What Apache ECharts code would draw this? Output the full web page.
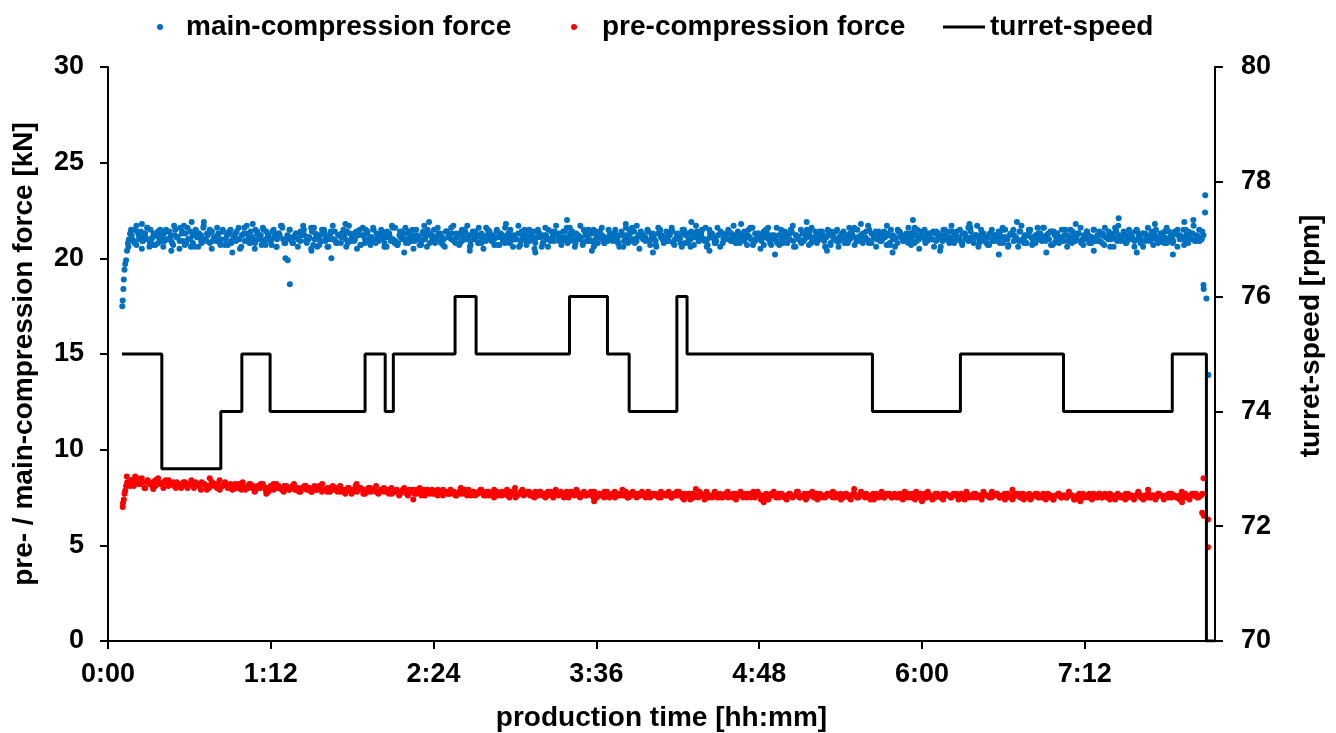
<!DOCTYPE html>
<html>
<head>
<meta charset="utf-8">
<script src="https://cdn.jsdelivr.net/npm/echarts@6/dist/echarts.min.js"></script>
<style>html,body{margin:0;padding:0;background:#fff}#c{width:1336px;height:733px}</style>
</head>
<body>
<div id="c"></div>
<script>
// ---- data (time in minutes of production) ----
const xTickLabels = ['0:00','1:12','2:24','3:36','4:48','6:00','7:12'];
const xTickStep = 72;          // minutes between x ticks
const xMax = 489.6;            // axis end (0.34 day)

// main-compression force [kN], three regularly sampled read-outs
const mainRange1 = [8.8, 484.5];
const mainForce = [
20.8,21.3,21.0,21.5,20.7,21.2,21.4,20.9,21.1,21.6,20.6,21.0,21.3,21.2,20.8,21.5,21.1,20.9,21.4,21.0,
21.2,20.7,21.5,21.1,20.9,21.3,21.7,20.8,21.0,21.4,21.2,20.6,21.1,21.3,20.9,21.6,21.0,21.2,20.8,21.4,
21.1,20.9,21.3,21.0,21.5,20.7,21.2,21.4,20.8,21.1,21.3,21.0,20.5,21.2,21.6,20.9,21.1,21.4,21.0,20.8,
21.3,21.1,20.7,21.5,21.0,21.2,20.9,21.4,21.1,20.6,21.3,21.7,21.0,20.8,21.2,21.5,20.9,21.1,21.3,21.0,
20.9,21.4,21.2,20.8,21.1,21.6,20.7,21.3,21.0,21.2,20.9,21.5,21.1,20.6,21.3,21.0,21.4,20.8,21.2,21.1,
21.5,21.0,20.8,21.3,21.1,20.9,21.4,21.2,20.7,21.6,21.0,21.3,20.9,21.1,21.5,20.8,21.2,21.0,21.4,20.6,
21.1,21.3,20.9,21.0,21.6,20.7,21.2,21.4,21.0,20.8,21.3,21.1,21.5,20.9,21.2,21.0,20.7,21.4,21.1,21.3,
20.8,21.2,21.5,21.0,20.9,21.3,21.1,20.6,21.4,21.2,21.0,21.7,20.8,21.1,21.3,20.9,21.5,21.0,21.2,20.7,
21.4,21.0,21.2,20.8,21.3,21.1,20.9,21.5,21.0,21.2,20.7,21.4,21.1,21.3,20.9,21.6,21.0,20.8,21.2,21.1,
21.0,21.3,20.7,21.1,21.5,20.9,21.2,21.0,21.4,20.8,21.1,21.3,20.6,21.2,21.0,21.5,20.9,21.1,21.4,21.2,
20.9,21.1,21.4,21.0,20.8,21.6,21.2,20.9,21.3,21.1,21.0,20.7,21.4,21.2,20.9,21.3,21.5,21.0,20.8,21.1,
21.2,20.8,21.0,21.5,21.1,20.9,21.3,21.0,20.6,21.4,21.2,21.1,20.8,21.3,21.6,21.0,20.9,21.2,21.4,21.0,
21.1,21.4,20.9,21.2,21.0,20.7,21.3,21.5,21.0,21.1,20.9,21.2,21.4,20.8,21.0,21.3,21.1,20.6,21.5,21.2,
20.8,21.0,21.3,21.1,21.4,20.9,21.2,21.0,21.6,20.7,21.1,21.3,21.0,20.9,21.2,21.4,20.8,21.1,21.3,21.0,
21.3,21.1,20.8,21.4,21.0,21.2,20.9,21.1,21.5,21.0,20.7,21.3,21.2,21.0,20.9,21.4,21.1,21.6,20.8,21.2,
21.0,20.9,21.2,21.5,20.8,21.1,21.3,21.0,21.4,20.6,21.2,21.1,20.9,21.3,21.0,21.5,21.2,20.8,21.1,21.4,
21.2,21.0,21.4,20.9,21.1,21.3,20.7,21.2,21.0,21.5,20.9,21.1,21.4,21.0,20.8,21.3,21.2,21.6,20.9,21.1,
20.9,21.3,21.1,21.0,21.5,20.8,21.2,21.4,21.0,20.9,21.3,21.1,20.7,21.2,21.5,21.0,21.1,20.8,21.4,21.2,
21.1,21.0,20.8,21.3,21.2,21.6,20.9,21.0,21.4,21.1,20.8,21.2,21.3,21.0,20.6,21.4,21.1,21.2,20.9,21.5,
21.0,21.4,21.1,20.9,21.2,21.0,21.5,20.8,21.3,21.1,20.9,21.4,21.0,21.2,21.7,20.8,21.1,21.3,21.0,20.7,
21.3,20.9,21.2,21.0,21.4,21.1,20.8,21.5,21.0,21.2,21.3,20.9,21.1,20.6,21.4,21.0,21.2,20.8,21.5,21.1,
20.8,21.2,21.0,21.3,20.9,21.6,21.1,21.0,21.4,20.7,21.2,21.3,21.0,21.1,20.9,21.5,21.2,21.0,20.8,21.3,
21.1,21.3,20.9,21.0,21.2,21.4,20.8,21.1,21.5,21.0,20.9,21.3,21.2,20.7,21.1,21.4,21.0,21.2,21.6,20.9,
21.2,21.0,21.4,20.8,21.1,21.3,21.0,20.9,21.5,21.2,21.0,20.6,21.3,21.1,20.9,21.4,21.2,21.0,20.8,21.3,
21.0,21.1,20.8,21.4,21.2,20.9,21.3,21.5,21.0,21.1,20.7,21.2,21.4,21.0,21.3,20.9,21.1,21.5,21.0,21.2
];
const mainRange2 = [9.3, 484.0];
const mainForce2 = [
21.0,21.2,20.8,21.4,21.1,20.9,21.3,21.0,21.5,20.7,21.2,21.1,20.9,21.3,21.0,21.4,20.8,21.2,21.1,21.6,
20.9,21.3,21.0,20.6,21.2,21.4,21.1,20.8,21.0,21.3,21.5,20.9,21.1,21.2,20.7,21.4,21.0,21.3,20.9,21.1,
21.4,21.0,21.2,20.9,21.3,20.8,21.1,21.5,21.0,21.2,20.9,21.4,21.1,20.7,21.3,21.0,21.2,21.6,20.8,21.1,
21.1,20.8,21.3,21.0,21.2,21.5,20.9,21.1,21.4,21.0,20.6,21.2,21.3,20.9,21.1,21.4,21.0,20.8,21.2,21.3,
21.2,21.4,20.9,21.1,21.0,21.3,20.7,21.2,21.5,21.0,21.1,20.9,21.3,21.2,21.0,20.8,21.4,21.1,21.6,20.9,
20.8,21.1,21.3,21.0,21.4,20.9,21.2,21.1,20.7,21.3,21.0,21.5,21.2,20.9,21.1,21.3,20.8,21.0,21.4,21.2,
21.3,21.0,21.1,20.8,21.2,21.4,21.0,20.9,21.3,21.1,21.6,20.8,21.0,21.2,21.4,20.9,21.1,20.7,21.3,21.0,
21.1,21.3,20.9,21.2,21.0,20.6,21.4,21.1,21.2,20.9,21.3,21.0,21.5,21.1,20.8,21.2,21.0,21.4,20.9,21.2,
21.0,20.9,21.4,21.1,21.3,21.0,20.8,21.2,21.1,21.5,20.9,21.0,21.3,20.7,21.2,21.4,21.0,21.1,20.9,21.3,
21.2,21.1,20.8,21.3,20.9,21.2,21.5,21.0,20.8,21.1,21.3,21.2,20.9,21.4,21.0,21.1,20.6,21.3,21.2,21.0,
20.9,21.2,21.4,21.0,21.1,20.8,21.3,21.2,21.0,21.4,20.7,21.1,21.2,21.5,20.9,21.0,21.3,21.1,20.8,21.2,
21.3,21.0,21.1,21.4,20.9,21.2,21.0,20.8,21.3,21.1,21.2,21.6,20.9,21.0,21.3,21.1,20.7,21.4,21.2,21.0,
21.1,20.8,21.2,21.0,21.3,21.1,21.5,20.9,21.2,21.0,20.8,21.3,21.1,21.4,21.0,20.9,21.2,21.3,21.1,20.6,
21.2,21.4,21.0,20.9,21.1,21.3,20.8,21.2,21.0,21.5,21.1,20.9,21.2,21.0,21.4,20.8,21.3,21.1,21.0,21.2,
21.0,21.1,21.3,20.7,21.2,21.0,21.4,21.1,20.9,21.3,21.2,21.0,20.8,21.5,21.1,21.2,20.9,21.3,21.0,21.4,
20.9,21.3,21.1,21.2,21.0,20.8,21.4,21.2,21.1,20.9,21.3,21.0,21.6,21.1,20.8,21.2,21.0,21.3,20.9,21.1,
21.3,21.0,20.9,21.2,21.4,21.1,21.0,20.7,21.3,21.2,21.0,21.4,20.9,21.1,21.2,21.5,21.0,20.8,21.3,21.1,
21.1,21.2,21.0,21.4,20.8,21.3,21.1,21.0,21.2,20.9,21.5,21.1,21.0,21.3,20.8,21.2,21.4,21.0,21.1,20.9,
21.2,20.9,21.3,21.1,21.0,21.2,20.6,21.4,21.1,21.0,21.3,20.9,21.2,21.1,21.4,21.0,20.8,21.3,21.2,21.0,
21.0,21.3,21.1,20.9,21.2,21.4,21.0,21.1,20.8,21.3,21.2,21.0,21.5,20.9,21.1,21.3,21.0,21.2,20.9,21.4
];
const mainRange3 = [9.0, 483.7];
const mainForce3 = [
20.6,21.5,20.9,21.7,21.0,20.5,21.3,21.6,20.8,21.1,20.7,21.4,21.2,20.6,21.5,21.0,20.9,21.7,21.1,20.5,
21.4,20.7,21.6,21.0,20.8,21.5,20.6,21.2,21.7,20.9,21.3,20.5,21.1,21.6,20.8,21.4,21.0,20.7,21.5,21.2,
20.9,21.6,20.6,21.3,21.7,20.8,21.1,20.5,21.4,21.0,21.6,20.7,21.2,20.9,21.5,20.6,21.3,21.7,20.8,21.0,
21.5,20.8,21.2,20.6,21.4,21.7,20.9,21.0,20.5,21.6,21.1,20.7,21.5,21.3,20.6,21.0,21.7,20.9,21.2,20.8,
21.1,20.6,21.7,20.9,21.3,20.5,21.5,21.2,20.8,21.4,20.7,21.6,21.0,20.9,21.5,21.2,20.6,21.3,21.7,20.8,
20.7,21.4,21.0,21.6,20.8,21.2,20.5,21.5,21.1,20.9,21.7,20.6,21.3,21.0,20.8,21.6,21.2,20.7,21.4,21.1,
21.6,20.9,21.3,20.7,21.5,21.0,21.7,20.6,21.2,21.4,20.8,21.1,20.5,21.6,21.3,20.9,21.0,21.5,20.7,21.2,
20.8,21.2,21.5,20.6,21.0,21.7,20.9,21.3,20.7,21.5,21.1,20.5,21.4,21.2,20.8,21.6,20.6,21.0,21.3,21.7,
21.3,20.7,21.1,21.6,20.9,21.4,20.6,21.0,21.7,20.8,21.2,21.5,20.9,20.6,21.4,21.1,21.6,20.8,21.0,21.3,
21.0,21.5,20.8,21.2,20.6,21.6,21.1,20.9,21.4,21.7,20.5,21.2,21.0,21.5,20.7,21.3,20.9,21.6,21.1,20.8,
21.4,20.9,21.6,20.7,21.2,21.0,21.5,20.8,21.3,20.6,21.1,21.7,20.9,21.4,21.0,20.6,21.5,21.2,20.8,21.6,
20.6,21.3,21.0,21.5,20.9,21.7,20.8,21.2,21.0,21.4,20.7,21.1,21.6,20.9,21.3,20.5,21.2,21.5,21.0,20.7,
21.2,21.6,20.7,21.0,21.4,20.8,21.3,21.7,20.6,21.1,21.5,20.9,21.2,20.7,21.6,21.0,20.8,21.4,21.3,20.6,
21.5,20.8,21.1,21.4,20.6,21.2,21.0,20.9,21.6,21.3,20.7,21.5,21.1,20.8,21.0,21.7,20.9,21.2,20.6,21.4,
20.9,21.4,21.7,20.8,21.1,20.6,21.5,21.3,20.9,21.0,21.6,20.7,21.4,21.2,20.5,21.1,21.5,20.9,21.3,21.0,
21.3,21.0,20.6,21.5,21.2,20.9,21.7,20.8,21.4,21.1,20.7,21.3,21.0,21.6,20.9,21.2,20.6,21.5,21.1,20.8,
20.7,21.5,21.2,21.0,20.8,21.6,21.1,20.6,21.3,21.5,21.0,20.9,21.7,20.8,21.2,21.4,20.7,21.0,21.6,21.3,
21.6,20.9,21.3,20.7,21.4,21.0,20.8,21.5,21.2,20.6,21.1,21.4,20.9,21.3,21.6,20.7,21.0,21.2,20.8,21.5,
21.0,21.4,20.8,21.6,21.1,20.6,21.3,21.0,21.7,20.9,21.2,20.8,21.5,21.1,20.6,21.4,21.0,21.3,20.9,21.6,
21.2,20.7,21.5,21.0,21.3,20.8,21.6,20.9,21.1,21.4,20.6,21.2,21.0,21.5,20.8,21.3,21.7,20.9,21.1,21.0
];
// individual main-force readings [min, kN]: start-up, edge scatter, outliers, end
const mainExtra = [
[6.3,17.5],[6.5,17.8],[6.8,18.4],[7.0,18.9],[7.3,19.4],[7.6,19.7],[8.0,19.9],[8.4,20.4],
[15,21.8],[28,20.4],[37,21.9],[42.4,21.9],[55,20.3],[64,21.8],[78.5,20.0],[79.5,19.9],[80.4,18.65],[90,20.4],[98.8,20.0],
[105,21.8],[131,20.3],[142,21.9],[160,20.4],[176,21.8],[189,20.3],[203,22.0],[214,20.4],[229,21.8],[241,20.3],
[258,21.9],[266,20.4],[280,21.8],[295,20.2],[309,21.9],[318,20.4],[333,21.8],[347,20.3],[356,22.0],[368,20.4],
[381,21.8],[394,20.2],[402,21.9],[415,20.3],[428,21.8],[436,20.4],[447,22.1],[455,20.3],[463,21.8],[471,20.2],[476,21.9],
[480,22.0],[485.3,23.3],[485.2,22.4],[484.5,18.6],[484.6,18.4],[485.8,17.9],[486.7,13.9]
];

// pre-compression force [kN], two regularly sampled read-outs
const preRange1 = [8.5, 484.0];
const preForce = [
8.3,8.1,8.4,8.2,8.5,8.2,8.3,8.0,8.4,8.2,8.3,8.1,8.5,8.2,8.3,8.4,8.1,8.2,8.3,8.0,
8.2,8.0,8.3,8.1,8.2,8.4,8.0,8.2,8.1,8.3,8.2,7.9,8.1,8.3,8.2,8.0,8.4,8.1,8.2,8.1,
8.1,7.9,8.2,8.0,8.1,8.3,7.9,8.0,8.2,8.1,7.9,8.0,8.2,8.1,8.0,7.8,8.1,8.2,8.0,8.1,
8.0,7.8,8.1,7.9,8.0,8.2,7.9,7.8,8.0,8.1,7.9,8.0,7.8,8.1,7.9,8.0,8.2,7.9,7.8,8.0,
7.9,8.0,7.8,8.1,7.9,7.7,8.0,7.9,7.8,8.1,7.9,8.0,7.7,7.9,8.0,7.8,7.9,8.1,7.8,7.9,
7.8,7.9,7.7,8.0,7.8,7.9,7.6,7.8,8.0,7.7,7.9,7.8,7.7,7.9,8.0,7.8,7.6,7.9,7.8,7.7,
7.7,7.9,7.8,7.6,7.8,7.7,7.9,7.8,7.6,7.7,8.0,7.8,7.7,7.9,7.6,7.8,7.7,7.8,7.9,7.6,
7.8,7.6,7.7,7.9,7.7,7.6,7.8,7.7,7.9,7.5,7.7,7.8,7.6,7.7,7.9,7.7,7.8,7.6,7.7,7.8,
7.6,7.8,7.7,7.5,7.8,7.7,7.6,7.9,7.7,7.8,7.6,7.7,7.5,7.8,7.7,7.9,7.6,7.7,7.8,7.6,
7.7,7.6,7.8,7.5,7.7,7.6,7.8,7.7,7.5,7.6,7.8,7.7,7.6,7.9,7.6,7.5,7.7,7.8,7.6,7.7,
7.6,7.7,7.5,7.8,7.6,7.7,7.6,7.5,7.8,7.7,7.6,7.8,7.5,7.7,7.6,7.8,7.7,7.4,7.6,7.7,
7.7,7.5,7.6,7.8,7.6,7.4,7.7,7.6,7.5,7.8,7.6,7.7,7.5,7.6,7.8,7.6,7.5,7.7,7.6,7.8,
7.5,7.7,7.6,7.5,7.8,7.6,7.7,7.4,7.6,7.7,7.5,7.6,7.8,7.6,7.5,7.7,7.6,7.4,7.7,7.6,
7.6,7.8,7.5,7.6,7.7,7.5,7.6,7.8,7.6,7.4,7.7,7.6,7.5,7.7,7.6,7.8,7.5,7.6,7.7,7.5,
7.7,7.6,7.4,7.7,7.6,7.5,7.8,7.6,7.7,7.5,7.6,7.4,7.7,7.6,7.8,7.5,7.6,7.7,7.5,7.6,
7.5,7.7,7.6,7.8,7.5,7.6,7.7,7.4,7.6,7.7,7.6,7.5,7.8,7.6,7.5,7.7,7.6,7.5,7.7,7.6,
7.6,7.5,7.7,7.6,7.4,7.7,7.6,7.8,7.5,7.6,7.7,7.5,7.6,7.4,7.7,7.6,7.5,7.8,7.6,7.7,
7.5,7.6,7.7,7.5,7.6,7.4,7.7,7.6,7.5,7.7,7.6,7.5,7.4,7.6,7.7,7.5,7.6,7.7,7.4,7.6,
7.6,7.4,7.6,7.7,7.5,7.6,7.5,7.8,7.6,7.4,7.5,7.7,7.6,7.5,7.6,7.7,7.4,7.6,7.5,7.7,
7.5,7.7,7.6,7.4,7.6,7.5,7.7,7.6,7.5,7.4,7.7,7.6,7.5,7.6,7.8,7.5,7.4,7.6,7.7,7.5,
7.6,7.5,7.7,7.6,7.4,7.6,7.5,7.7,7.6,7.5,7.6,7.8,7.5,7.6,7.4,7.7,7.6,7.5,7.6,7.7
];
const preRange2 = [9.0, 483.5];
const preForce2 = [
8.2,8.4,8.1,8.3,8.2,8.5,8.0,8.3,8.2,8.1,8.4,8.3,8.2,8.0,8.3,8.4,8.2,8.1,8.3,8.2,
8.1,8.3,8.0,8.2,8.1,8.3,8.2,7.9,8.2,8.1,8.0,8.3,8.1,8.2,7.9,8.1,8.3,8.0,8.2,8.1,
8.0,8.2,7.9,8.1,8.0,8.2,8.0,7.8,8.1,8.0,8.2,7.9,8.0,8.1,7.9,8.2,8.0,7.9,8.1,8.0,
7.9,8.1,7.9,8.0,7.8,8.0,8.1,7.9,7.8,8.0,7.9,8.1,7.8,7.9,8.0,7.8,8.1,7.9,8.0,7.8,
7.9,7.8,8.0,7.7,7.9,7.8,8.0,7.9,7.7,7.8,8.0,7.9,7.8,7.7,7.9,8.0,7.8,7.9,7.7,7.8,
7.8,7.7,7.9,7.8,7.6,7.8,7.9,7.7,7.8,7.6,7.9,7.8,7.7,7.9,7.8,7.6,7.7,7.9,7.8,7.7,
7.7,7.8,7.6,7.8,7.7,7.9,7.6,7.7,7.8,7.6,7.7,7.9,7.7,7.6,7.8,7.7,7.5,7.8,7.7,7.6,
7.7,7.6,7.8,7.7,7.5,7.7,7.8,7.6,7.7,7.8,7.6,7.5,7.7,7.8,7.6,7.7,7.6,7.8,7.5,7.7,
7.6,7.7,7.5,7.8,7.6,7.7,7.6,7.8,7.5,7.7,7.6,7.7,7.8,7.5,7.6,7.7,7.6,7.5,7.8,7.6,
7.7,7.5,7.6,7.7,7.6,7.8,7.5,7.6,7.7,7.5,7.6,7.8,7.6,7.7,7.5,7.6,7.7,7.6,7.5,7.7,
7.6,7.7,7.5,7.6,7.8,7.6,7.5,7.7,7.6,7.4,7.7,7.6,7.5,7.7,7.6,7.8,7.5,7.6,7.7,7.5,
7.5,7.6,7.7,7.5,7.6,7.7,7.4,7.6,7.7,7.6,7.5,7.7,7.6,7.5,7.8,7.6,7.5,7.6,7.4,7.7,
7.6,7.5,7.7,7.6,7.5,7.6,7.7,7.5,7.6,7.8,7.5,7.6,7.4,7.7,7.6,7.5,7.7,7.6,7.5,7.6,
7.7,7.6,7.5,7.7,7.6,7.4,7.6,7.7,7.5,7.6,7.7,7.5,7.6,7.7,7.5,7.6,7.4,7.7,7.6,7.5,
7.6,7.5,7.7,7.6,7.5,7.7,7.6,7.5,7.4,7.6,7.7,7.5,7.6,7.8,7.5,7.6,7.7,7.5,7.6,7.4,
7.5,7.7,7.6,7.4,7.7,7.6,7.5,7.6,7.7,7.5,7.6,7.4,7.7,7.6,7.5,7.7,7.6,7.5,7.8,7.6,
7.6,7.5,7.6,7.7,7.5,7.6,7.4,7.7,7.6,7.5,7.6,7.7,7.5,7.4,7.6,7.7,7.5,7.6,7.7,7.5,
7.5,7.6,7.7,7.5,7.4,7.6,7.7,7.5,7.6,7.5,7.7,7.6,7.4,7.6,7.5,7.7,7.6,7.5,7.6,7.7,
7.6,7.7,7.5,7.6,7.5,7.7,7.6,7.4,7.6,7.5,7.6,7.7,7.5,7.6,7.4,7.6,7.7,7.5,7.6,7.5,
7.5,7.6,7.4,7.7,7.6,7.5,7.6,7.7,7.5,7.6,7.5,7.4,7.6,7.7,7.5,7.6,7.6,7.7,7.5,7.6
];
// individual pre-force readings [min, kN]
const preExtra = [
[6.5,7.0],[6.6,7.2],[7.0,7.4],[7.3,7.7],[7.6,7.85],[8.0,8.1],[8.3,8.6],
[12,8.6],[20,7.95],[45,8.5],[70,7.7],[110,8.2],[135,7.4],[180,8.0],[215,7.3],[260,7.95],
[290,7.25],[330,7.95],[360,7.3],[400,7.9],[430,7.3],[460,7.9],[475,7.25],
[484.5,8.5],[483.9,6.7],[484.6,6.55],[486.5,6.35],[486.5,4.9]
];

// turret speed [rpm]: [minute where the value starts, rpm]
const turretSpeed = [
[6.2,75],[23.8,73],[49.9,74],[59.2,75],[71.7,74],[113.7,75],[122.6,74],[126.2,75],
[153.5,76],[162.8,75],[204.1,76],[220.9,75],[230.5,74],[251.6,76],[256.1,75],
[338.1,74],[377.0,75],[422.6,74],[470.7,75],[485.8,70],[489.6,70]
];

// ---- build ----
function sampled(vals, range) {
  const step = (range[1] - range[0]) / (vals.length - 1);
  return vals.map((v, i) => [range[0] + i * step, v]);
}
const mainData = sampled(mainForce, mainRange1)
  .concat(sampled(mainForce2, mainRange2), sampled(mainForce3, mainRange3), mainExtra);
const preData = sampled(preForce, preRange1).concat(sampled(preForce2, preRange2), preExtra);

const FONT = "'Liberation Sans', Arial, Helvetica, sans-serif";
const lbl = { color: '#000', fontWeight: 'bold', fontFamily: FONT, fontSize: 27 };
const nameStyle = { color: '#000', fontWeight: 'bold', fontFamily: FONT, fontSize: 28 };
const axLine = { show: true, lineStyle: { color: '#000', width: 2 } };

const chart = echarts.init(document.getElementById('c'), null, { renderer: 'canvas' });
chart.setOption({
  backgroundColor: '#fff',
  animation: false,
  grid: { left: 108, right: 121, top: 67, bottom: 92, containLabel: false, outerBoundsMode: 'none' },
  legend: [
    { data: ['main-compression force'], left: 152, top: 8, icon: 'circle', itemWidth: 6, itemHeight: 6,
      textStyle: Object.assign({ padding: [0, 0, 0, 18] }, nameStyle) },
    { data: ['pre-compression force'], left: 566, top: 8, icon: 'circle', itemWidth: 6, itemHeight: 6,
      textStyle: Object.assign({ padding: [0, 0, 0, 20] }, nameStyle) },
    { data: ['turret-speed'], left: 938, top: 8, icon: 'rect', itemWidth: 42, itemHeight: 3,
      textStyle: Object.assign({}, nameStyle) }
  ],
  xAxis: {
    type: 'value', min: 0, max: xMax, interval: xTickStep,
    name: 'production time [hh:mm]', nameLocation: 'middle', nameGap: 63, nameTextStyle: nameStyle,
    axisLine: axLine,
    axisTick: { show: true, inside: false, length: 8, lineStyle: { color: '#000', width: 2 } },
    axisLabel: Object.assign({ margin: 20, showMaxLabel: false,
      formatter: v => { const k = Math.round(v / xTickStep); return (Math.abs(v - k * xTickStep) < 1e-6 && xTickLabels[k]) ? xTickLabels[k] : ''; } }, lbl),
    splitLine: { show: false }
  },
  yAxis: [
    { type: 'value', min: 0, max: 30, interval: 5, position: 'left',
      name: 'pre- / main-compression force [kN]', nameLocation: 'middle', nameRotate: 90, nameGap: 70,
      nameTextStyle: nameStyle,
      axisLine: axLine,
      axisTick: { show: true, length: 8, lineStyle: { color: '#000', width: 2 } },
      axisLabel: Object.assign({ margin: 24 }, lbl),
      splitLine: { show: false } },
    { type: 'value', min: 70, max: 80, interval: 2, position: 'right',
      name: 'turret-speed [rpm]', nameLocation: 'middle', nameRotate: 90, nameGap: 82,
      nameTextStyle: Object.assign({ padding: [0, 0, 0, 36] }, nameStyle),
      axisLine: axLine,
      axisTick: { show: true, length: 8, lineStyle: { color: '#000', width: 2 } },
      axisLabel: Object.assign({ margin: 26 }, lbl),
      splitLine: { show: false } }
  ],
  series: [
    { name: 'main-compression force', type: 'scatter', yAxisIndex: 0, data: mainData,
      symbolSize: 6, itemStyle: { color: '#0070C0', opacity: 1 }, z: 2 },
    { name: 'pre-compression force', type: 'scatter', yAxisIndex: 0, data: preData,
      symbolSize: 6, itemStyle: { color: '#FF0000', opacity: 1 }, z: 2 },
    { name: 'turret-speed', type: 'line', yAxisIndex: 1, data: turretSpeed, step: 'end',
      symbol: 'none', showSymbol: false, lineStyle: { color: '#000', width: 3 }, itemStyle: { color: '#000' }, z: 3 }
  ]
});
</script>
</body>
</html>
